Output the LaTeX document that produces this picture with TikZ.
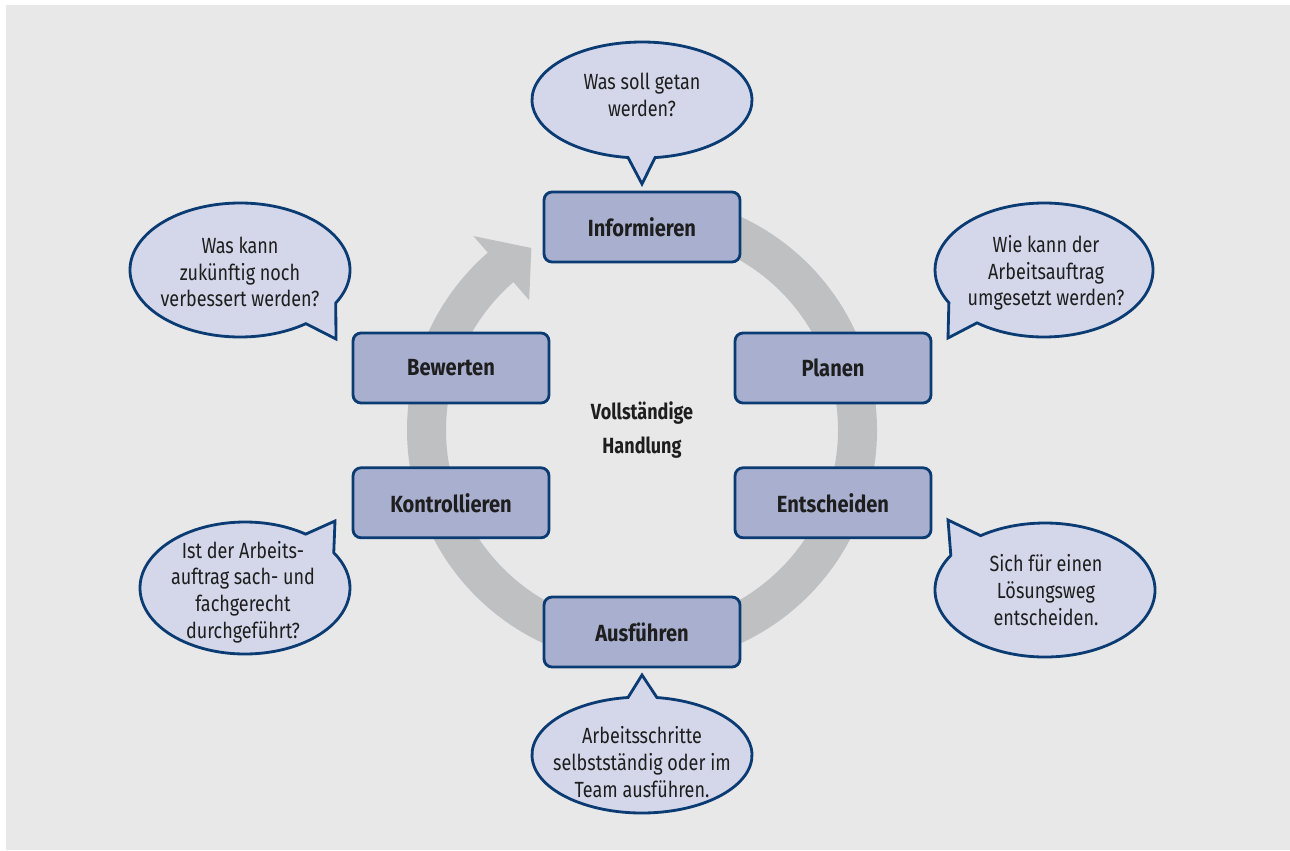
\documentclass[tikz,border=0pt]{standalone}
\usepackage{fontspec}
\setmainfont{Fira Sans}[FakeStretch=0.82]
\newfontfamily\phasefont{Fira Sans}[FakeStretch=0.86]
\usepackage{tikz}
\usetikzlibrary{positioning}
\definecolor{panelgray}{HTML}{E8E8E8}
\definecolor{ringgray}{HTML}{BFC0C1}
\definecolor{stepblue}{HTML}{A9B0CF}
\definecolor{bubbleblue}{HTML}{D3D7E9}
\definecolor{navy}{HTML}{0B3B73}
\definecolor{inkgray}{HTML}{1E1E1E}

\begin{document}
\begin{tikzpicture}[x=0.02cm, y=0.02cm,
    phase/.style={draw=navy, line width=1.6pt, fill=stepblue, rounded corners=0.16cm,
      minimum width=3.92cm, minimum height=1.4cm, text=inkgray,
      font=\phasefont\fontsize{13.3pt}{15pt}\selectfont\bfseries},
    bubble/.style={draw=navy, line width=1.6pt, fill=bubbleblue, line join=miter},
    question/.style={align=center, text=inkgray, font=\fontsize{12.5pt}{15.2pt}\selectfont}]
  \useasboundingbox (0,0) rectangle (1290,850);
  \fill[panelgray] (6,0) rectangle (1290,845);

  % Kreislauf mit Pfeilspitze
  \fill[ringgray, shift={(642,420)}] (95:235) arc[start angle=95, end angle=-229, radius=235]
    -- (-229:257) -- (-238.7:213) -- (-229:172) -- (-229:196)
    arc[start angle=-229, end angle=95, radius=196] -- cycle;

  \node[phase] (info) at (642,623) {Informieren};
  \node[phase] (plan) at (833,482) {Planen};
  \node[phase, below=1.24cm of plan] (entsch) {Entscheiden};
  \node[phase] (ausf) at (642,218) {Ausführen};
  \node[phase] (bew) at (451,482) {Bewerten};
  \node[phase, below=1.24cm of bew] (kontr) {Kontrollieren};
  \node[font=\fontsize{12.5pt}{19pt}\selectfont\bfseries, align=center, text=inkgray]
    (mitte) at (642,420) {Vollständige\\Handlung};

  % Sprechblasen
  \filldraw[bubble] (642,666) -- ([shift={(276.8:110 and 58)}]642,750)
    arc[start angle=276.8, end angle=622.7, x radius=110, y radius=58] -- cycle;
  \filldraw[bubble] (336,511) -- ([shift={(330.5:110 and 67)}]240,580)
    arc[start angle=330.5, end angle=666.8, x radius=110, y radius=67] -- cycle;
  \filldraw[bubble] (948,512) -- ([shift={(232.1:109 and 67)}]1044,580)
    arc[start angle=232.1, end angle=569.2, x radius=109, y radius=67] -- cycle;
  \filldraw[bubble] (335,329) -- ([shift={(54.7:105 and 66)}]245,262)
    arc[start angle=54.7, end angle=392.3, x radius=105, y radius=66] -- cycle;
  \filldraw[bubble] (948,330) -- ([shift={(148.9:110 and 67)}]1045,260)
    arc[start angle=148.9, end angle=485.8, x radius=110, y radius=67] -- cycle;
  \filldraw[bubble] (642,175) -- ([shift={(97.3:110 and 58)}]642,95)
    arc[start angle=97.3, end angle=442.2, x radius=110, y radius=58] -- cycle;

  \node[question] (q-info) at (642,755) {Was soll getan\\werden?};
  \node[question] (q-bew) at (240,578) {Was kann\\zukünftig noch\\verbessert werden?};
  \node[question] (q-plan) at (1046,577) {Wie kann der\\Arbeitsauftrag\\umgesetzt werden?};
  \node[question] (q-kontr) at (243,258) {Ist der Arbeits-\\auftrag sach- und\\fachgerecht\\durchgeführt?};
  \node[question] (q-entsch) at (1046,260) {Sich für einen\\Lösungsweg\\entscheiden.};
  \node[question] (q-ausf) at (642,88) {Arbeitsschritte\\selbstständig oder im\\Team ausführen.};
\end{tikzpicture}
\end{document}
